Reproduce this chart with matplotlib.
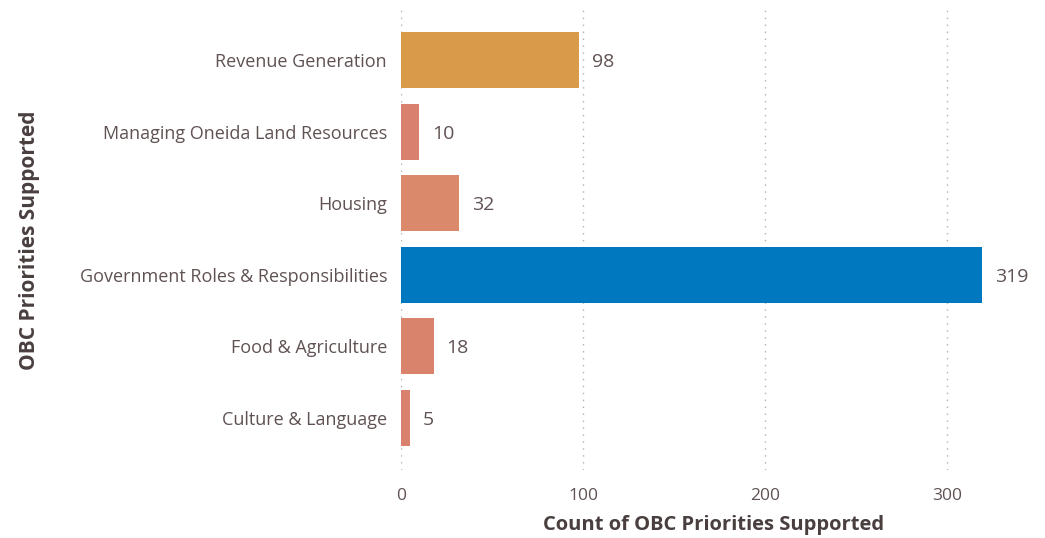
import matplotlib.pyplot as plt

categories = ["Revenue Generation", "Managing Oneida Land Resources", "Housing",
              "Government Roles & Responsibilities", "Food & Agriculture", "Culture & Language"]
counts = [98, 10, 32, 319, 18, 5]
colors = ["#D99B4A", "#D9806E", "#DA8A6A", "#0078C0", "#D9826C", "#D9806E"]

txt = "#605252"
plt.rcParams['font.family'] = ['Open Sans', 'DejaVu Sans']

fig = plt.figure(figsize=(10.45, 5.38), dpi=100)
ax = fig.add_axes([401/1045, 1-470/538, 601/1045, 462/538])

ypos = list(range(len(categories)))
ax.barh(ypos, counts, height=0.78, color=colors)
for y, v in zip(ypos, counts):
    ax.text(v + 7, y + 0.03, str(v), va='center', ha='left', fontsize=14, color=txt)

ax.set_ylim(len(categories) - 0.27, -0.73)
ax.set_xlim(0, 330)
ax.set_yticks(ypos)
ax.set_yticklabels(categories, fontsize=13, color=txt)
ax.set_xticks([0, 100, 200, 300])
ax.tick_params(axis='x', colors=txt, labelsize=12.5, length=0, pad=13)
ax.tick_params(axis='y', length=0, pad=10)
for s in ax.spines.values():
    s.set_visible(False)
ax.grid(axis='x', linestyle=(0, (1, 4)), color='#b0b0b0', linewidth=1)
ax.set_axisbelow(True)

fig.text(714/1045, 1-525/538, "Count of OBC Priorities Supported", fontsize=14.5,
         fontweight='bold', color='#4a3f3f', ha='center', va='center')
fig.text(30/1045, 1-240/538, "OBC Priorities Supported", rotation=90, fontsize=15,
         fontweight='bold', color='#4a3f3f', ha='center', va='center')

fig.savefig("out.png", dpi=100)
